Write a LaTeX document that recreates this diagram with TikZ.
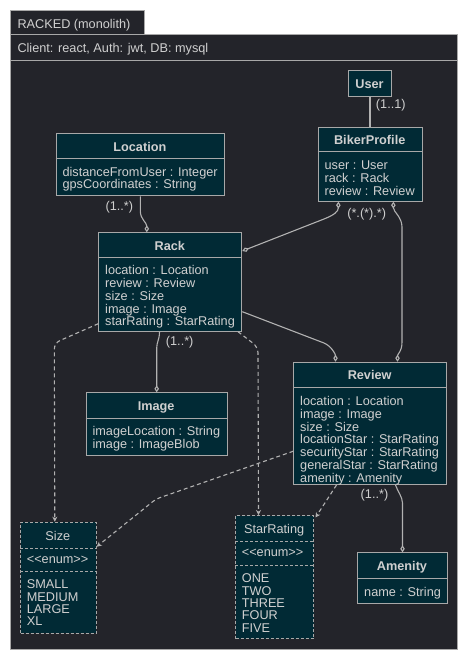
\documentclass[tikz,border=0pt]{standalone}
\usepackage{fontspec}
\setmainfont{Liberation Sans}
\usetikzlibrary{arrows.meta,calc}
\definecolor{bgc}{RGB}{35,36,42}
\definecolor{nodec}{RGB}{1,42,53}
\definecolor{bordc}{RGB}{168,168,168}
\definecolor{txtc}{RGB}{208,208,208}
\definecolor{linec}{RGB}{178,178,178}
\newcommand\fs{\fontsize{12.7}{12}\selectfont}
\newcommand\enumtag{\hbox{<}\hbox{<}enum\hbox{>}\hbox{>}}
\tikzset{
  frm/.style={draw=bordc, fill=bgc, line width=1pt, inner sep=0pt, anchor=north west},
  cls/.style={draw=bordc, fill=nodec, line width=1pt, inner sep=0pt, anchor=north west},
  enm/.style={cls, dash pattern=on 3pt off 2pt},
  sepl/.style={draw=bordc, line width=1pt},
  ttl/.style={font=\bfseries\fs, text=txtc, inner sep=0pt, anchor=base},
  ettl/.style={font=\fs, text=txtc, inner sep=0pt, anchor=base},
  attr/.style={font=\fs, text=txtc, inner sep=0pt, anchor=base west},
  lbl/.style={font=\fs, text=txtc, inner sep=0pt},
  conn/.style={draw=linec, line width=1.1pt},
  agg/.style={conn, -{Diamond[open, length=7pt, width=4.5pt]}},
  aggb/.style={conn, {Diamond[open, length=7pt, width=4.5pt]}-{Diamond[open, length=7pt, width=4.5pt]}},
  dep/.style={conn, dash pattern=on 4pt off 3pt, -{Stealth[length=5pt, width=5pt]}}
}
% name, left, top, width, height, separator y, title, attributes
\newcommand\myclass[8]{%
  \node[cls, minimum width=#4, minimum height=#5] (#1) at (#2,#3) {};
  \draw[sepl] (#2,#6) -- ++(#4,0);
  \node[ttl] (#1-t) at (#2+#4/2,#3+18) {#7};
  \node[attr] (#1-a) at (#2+6.7,#6+17.7) {\begin{tabular}[t]{@{}l@{}}#8\end{tabular}};
}
% name, left, top, width, height, sep1, sep2, title, values
\newcommand\myenum[9]{%
  \node[enm, minimum width=#4, minimum height=#5] (#1) at (#2,#3) {};
  \draw[sepl, dash pattern=on 3pt off 2pt] (#2,#6) -- ++(#4,0);
  \draw[sepl, dash pattern=on 3pt off 2pt] (#2,#7) -- ++(#4,0);
  \node[ettl] (#1-t) at (#2+#4/2,#3+18.3) {#8};
  \node[attr] (#1-s) at (#2+6.7,#6+15) {\enumtag};
  \node[attr] (#1-a) at (#2+6.7,#7+17) {\begin{tabular}[t]{@{}l@{}}#9\end{tabular}};
}
\begin{document}
\begin{tikzpicture}[x=1pt,y=-1pt]
\useasboundingbox (0,0) rectangle (466,659);
\fill[white] (0,0) rectangle (466,659);
% frame
\node[frm, minimum width=447, minimum height=615] (frame) at (10,34) {};
\node[frm, minimum width=134, minimum height=24] (tab) at (10,10) {};
\node[attr] (tabtext) at (17.3,28.3) {RACKED (monolith)};
\draw[sepl] (10,60) -- (457,60);
\node[attr] (hdr) at (17.3,52.5) {Client: react, Auth: jwt, DB: mysql};
% classes
\myclass{user}{348}{70}{43}{26}{96}{User}{}
\myclass{bp}{317.7}{126.7}{104}{74}{151.7}{BikerProfile}{user : User\\rack : Rack\\review : Review}
\myclass{loc}{55.7}{133.3}{168.3}{62}{158.3}{Location}{distanceFromUser : Integer\\gpsCoordinates : String}
\myclass{rack}{98.3}{232.3}{143}{98.4}{257}{Rack}{location : Location\\review : Review\\size : Size\\image : Image\\starRating : StarRating}
\myclass{img}{85.7}{392.3}{141}{62.7}{418}{Image}{imageLocation : String\\image : ImageBlob}
\myclass{rev}{293.3}{361.7}{152.7}{122.3}{387.7}{Review}{location : Location\\image : Image\\size : Size\\locationStar : StarRating\\securityStar : StarRating\\generalStar : StarRating\\amenity : Amenity}
\myclass{amen}{357.3}{552.3}{89.4}{50.4}{578.3}{Amenity}{name : String}
\myenum{size}{20}{521.7}{75.7}{111}{548.3}{571.7}{Size}{SMALL\\MEDIUM\\LARGE\\XL}
\myenum{star}{235}{515}{78.3}{123.3}{541}{565.7}{StarRating}{ONE\\TWO\\THREE\\FOUR\\FIVE}
% connectors
\draw[conn] (user.south) -- (user.south |- bp.north);
\node[lbl] (l1) at (390.8,105) {(1..1)};
\draw[agg] (loc.south) -- ++(0,15) .. controls +(0,8) and +(0,-10) .. ($(rack.north)+(-23.5,0)$);
\node[lbl] (l2) at (119.3,207.7) {(1..*)};
\draw[aggb] ($(bp.south)+(-31.85,0)$) .. controls +(0,10) and +(10,-4) .. (324,219) -- ($(rack.north east)+(0,18.7)$);
\draw[aggb] ($(bp.south)+(23.15,0)$) .. controls +(0,10) and +(0,-10) .. (402,227) -- (402,342) .. controls +(0,10) and +(0,-8) .. ($(rev.north)+(27.35,0)$);
\node[lbl] (l3) at (366.7,214) {(*.(*).*)};
\draw[agg] ($(rack.north east)+(0,79.4)$) -- (324,343) .. controls +(7,3) and +(0,-8) .. ($(rev.north)+(-34.65,0)$);
\draw[agg] ($(rack.south)+(-10.8,0)$) .. controls +(0,8) and +(0,-6) .. (img.north |- 0,348) -- (img.north);
\node[lbl] (l4) at (179.7,342.3) {(1..*)};
\draw[dep, rounded corners=6pt] ($(rack.south west)+(0,-8)$) -- (54.3,343) -- ($(size.north)+(-3.55,0)$);
\draw[dep, rounded corners=6pt] ($(rack.south east)+(-4.3,0)$) -- (258,347) -- ($(star.north)+(-16.15,0)$);
\draw[dep, rounded corners=4pt] ($(rev.west)+(0,27.85)$) -- (156,499) -- ($(size.north east)+(0,25)$);
\draw[dep] ($(rev.south)+(-33.65,0)$) -- ($(star.north east)+(1.2,2.5)$);
\draw[agg] ($(rev.south)+(25.35,0)$) .. controls +(2,6) and +(0,-6) .. (amen.north |- 0,503) -- (amen.north);
\node[lbl] (l5) at (374.5,495.7) {(1..*)};
\end{tikzpicture}
\end{document}
